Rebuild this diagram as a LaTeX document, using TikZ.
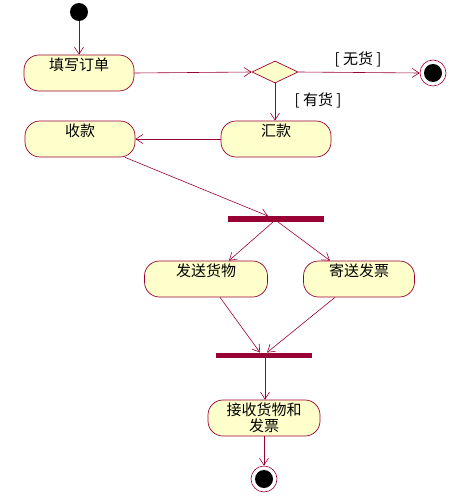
\documentclass[tikz,border=0pt]{standalone}
\usepackage{fontspec}
\setmainfont{Noto Sans CJK SC}
\usetikzlibrary{arrows.meta,shapes.geometric}
\definecolor{umlred}{HTML}{990033}
\definecolor{umlfill}{HTML}{FFFFCC}
\tikzset{
  act/.style={draw=umlred, fill=umlfill, line width=0.7pt, rounded corners=15pt,
    minimum width=110pt, minimum height=36pt, inner sep=1pt, font=\fontsize{15}{17}\selectfont,
    text height=12pt, text depth=17pt},
  act2/.style={draw=umlred, fill=umlfill, line width=0.7pt, rounded corners=15pt,
    minimum width=112pt, minimum height=36pt, inner sep=1pt, align=center,
    font=\fontsize{15}{16}\selectfont},
  bar/.style={fill=umlred, draw=none, minimum width=96pt, minimum height=5.5pt, inner sep=0pt},
  flow/.style={draw=umlred, line width=0.6pt, -{Straight Barb[length=7pt,width=9pt,line width=0.6pt]}},
  guard/.style={font=\fontsize{15}{17}\selectfont, inner sep=0pt},
  startst/.style={circle, fill=black, minimum size=18pt, inner sep=0pt},
  endst/.style={circle, draw=umlred, fill=white, line width=0.6pt, minimum size=26pt, inner sep=0pt},
  dec/.style={diamond, draw=umlred, fill=umlfill, line width=0.7pt, minimum width=46pt, minimum height=22pt, inner sep=0pt, aspect=2.1}
}
\begin{document}
\begin{tikzpicture}[x=1pt,y=-1pt]
\useasboundingbox (0,0) rectangle (453,500);
\node[startst] (start) at (79,12) {};
\node[act] (fill) at (79,73) {填写订单};
\node[dec] (dec) at (275,72) {};
\node[endst] (end1) at (433,73) {};
\fill[black] (end1.center) circle (9pt);
\node[act] (hui) at (276,139) {汇款};
\node[act] (shou) at (80,139) {收款};
\node[bar] (fork) at (276,219) {};
\node[act,minimum width=123pt] (send) at (206,279) {发送货物};
\node[act,minimum width=111pt] (mail) at (359,279) {寄送发票};
\node[bar] (join) at (264,355.5) {};
\node[act2] (recv) at (264,418) {接收货物和\\发票};
\node[endst] (end2) at (264,479) {};
\fill[black] (end2.center) circle (9pt);

\node[guard] (g1) at (358,59) {[ 无货 ]};
\node[guard] (g2) at (318,100) {[ 有货 ]};

\draw[flow] (start) -- (fill);
\draw[flow] (fill.east) -- (dec.west);
\draw[flow] (dec.east) -- (end1.west);
\draw[flow] (dec.south) -- (dec.south |- hui.north);
\draw[flow] (hui.west) -- (shou.east);
\draw[flow] ([xshift=45pt]shou.south) -- ([xshift=-8pt]fork.north);
\draw[flow] ([xshift=-3pt]fork.south) -- ([xshift=23pt]send.north);
\draw[flow] ([xshift=2pt]fork.south) -- ([xshift=-29pt]mail.north);
\draw[flow] ([xshift=14pt]send.south) -- ([xshift=-4pt]join.north);
\draw[flow] ([xshift=-24pt]mail.south) -- ([xshift=3pt]join.north);
\draw[flow] ([xshift=1pt]join.south) -- ([xshift=1pt]recv.north);
\draw[flow] (recv.south) -- (end2.north);
\end{tikzpicture}
\end{document}
